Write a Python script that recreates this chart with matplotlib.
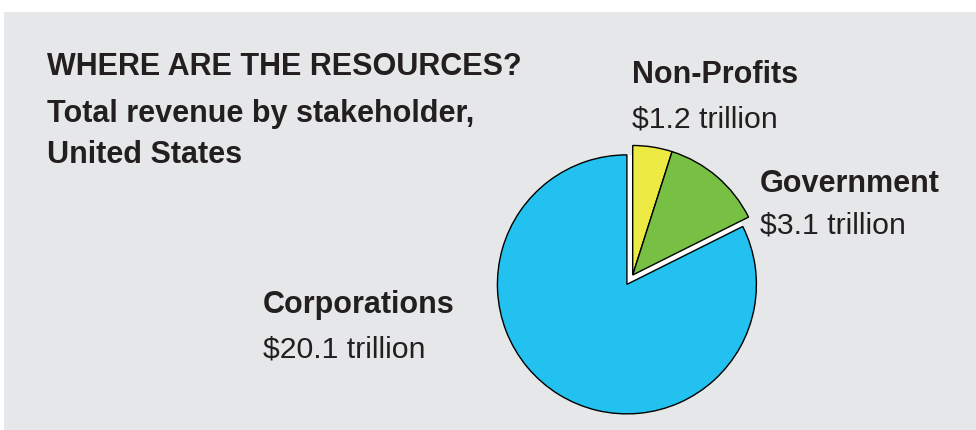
import matplotlib.pyplot as plt
from matplotlib.patches import Rectangle, Wedge

# === Data ===
stakeholders = ["Non-Profits", "Government", "Corporations"]
revenue = [1.2, 3.1, 20.1]  # trillion USD
value_labels = ["$1.2 trillion", "$3.1 trillion", "$20.1 trillion"]
colors = ["#eeea44", "#78c043", "#23c1ef"]

title = "WHERE ARE THE RESOURCES?"
subtitle = ["Total revenue by stakeholder,", "United States"]

W, H = 976, 430
plt.rcParams['font.family'] = ['Liberation Sans', 'DejaVu Sans']

fig = plt.figure(figsize=(W / 100, H / 100), dpi=100, facecolor="white")
ax = fig.add_axes([0, 0, 1, 1])

# grey panel
ax.add_patch(Rectangle((4, 0), W - 4, H - 12, facecolor="#e6e7e8", edgecolor="none", zorder=0))

# === Pie ===
radius = 129.5
wedges, _ = ax.pie(
    revenue, colors=colors, startangle=90, counterclock=False,
    radius=radius, center=(632.7, H - 275),
    explode=[0, 0, 0.085 * radius], frame=True,
    wedgeprops=dict(edgecolor="black", linewidth=1.0, zorder=3),
)
ax.set_xlim(0, W)
ax.set_ylim(0, H)
ax.set_aspect("equal")
ax.axis("off")

# white gap behind the small slices
gap = Wedge(wedges[2].center, radius, wedges[1].theta1, wedges[0].theta2,
            facecolor="white", edgecolor="none", zorder=2)
ax.add_patch(gap)

def put(x, y, s, **kw):
    fig.text(x / W, 1 - y / H, s, va="baseline", ha="left", color="#231f20", **kw)

# === Text ===
put(47, 75, title, fontsize=22, fontweight="bold")
put(47, 122, subtitle[0], fontsize=22, fontweight="bold")
put(47, 163, subtitle[1], fontsize=22, fontweight="bold")

label_pos = [(632, 83, 127), (760, 192, 233), (263, 313, 357)]
for name, val, (x, y1, y2) in zip(stakeholders, value_labels, label_pos):
    put(x, y1, name, fontsize=22, fontweight="bold")
    put(x, y2, val, fontsize=21.8)

fig.savefig("out.png", dpi=100, facecolor="white")
